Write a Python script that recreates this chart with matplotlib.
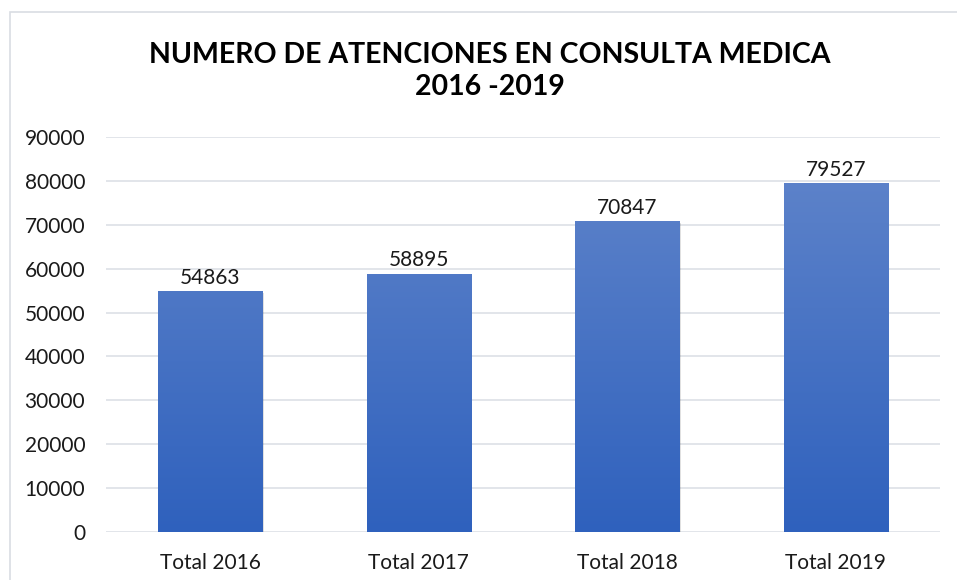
import numpy as np
import matplotlib.pyplot as plt
from matplotlib.patches import Rectangle
from matplotlib.colors import LinearSegmentedColormap

categories = ["Total 2016", "Total 2017", "Total 2018", "Total 2019"]
values = [54863, 58895, 70847, 79527]
y_ticks = [0, 10000, 20000, 30000, 40000, 50000, 60000, 70000, 80000, 90000]

plt.rcParams['font.family'] = ['Lato', 'DejaVu Sans']

fig = plt.figure(figsize=(9.57, 5.8), dpi=100)
fig.patches.append(Rectangle((10 / 957, -0.1), 1.2, 1.1 - 12 / 580 + 0.0, transform=fig.transFigure,
                             fill=False, edgecolor='#d9dde3', linewidth=1.2))

ax = fig.add_axes([106 / 957, 1 - 531.7 / 580, 834 / 957, (531.7 - 137.4) / 580])

x = np.arange(len(categories))
bars = ax.bar(x, values, width=0.5, color='none', zorder=3)

# vertical gradient, light on top, dark at bottom
cmap = LinearSegmentedColormap.from_list('blues', ['#2f61bd', '#6286cb'])
grad = np.linspace(0, 1, 256).reshape(-1, 1)
for bar in bars:
    bx, by = bar.get_x(), bar.get_y()
    bw, bh = bar.get_width(), bar.get_height()
    # soft shadow
    ax.add_patch(Rectangle((bx + 0.006, by), bw, bh - 300, facecolor='#000000', alpha=0.12,
                           edgecolor='none', zorder=2))
    im = ax.imshow(grad, cmap=cmap, extent=[bx, bx + bw, 0, 90000], origin='lower',
                   aspect='auto', zorder=4)
    im.set_clip_path(bar)
    ax.text(bx + bw / 2, bh + 800, str(bar.get_height()), ha='center', va='bottom',
            fontsize=15, color='#1a1a1a', zorder=5)

ax.set_xlim(-0.5, 3.5)
ax.set_ylim(0, 90000)
ax.set_yticks(y_ticks)
ax.set_yticklabels([str(t) for t in y_ticks], fontsize=15, color='#1a1a1a')
ax.set_xticks(x)
ax.set_xticklabels(categories, fontsize=15, color='#1a1a1a')
ax.tick_params(axis='both', length=0)
ax.tick_params(axis='y', pad=15)
ax.tick_params(axis='x', pad=15)
ax.grid(axis='y', color='#dfe3e8', linewidth=1.3, zorder=0)
ax.set_axisbelow(True)
for s in ax.spines.values():
    s.set_visible(False)

fig.text(490 / 957, 1 - 71 / 580, "NUMERO DE ATENCIONES EN CONSULTA MEDICA\n2016 -2019",
         ha='center', va='center', fontsize=20.5, fontweight='bold', linespacing=1.3)

plt.savefig('out.png', dpi=100, facecolor='white')
